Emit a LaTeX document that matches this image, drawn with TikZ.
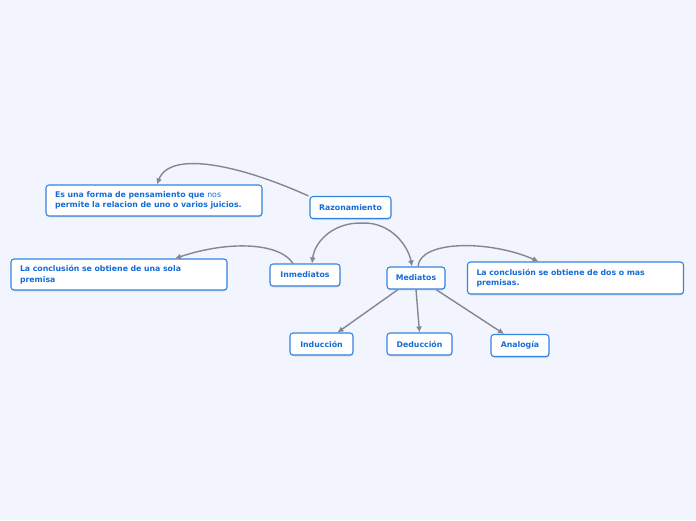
\documentclass[tikz,border=0pt]{standalone}
\usepackage{fontspec}
\setmainfont{DejaVu Sans}
\usepackage{xcolor}
\usepackage{tikz}
\usetikzlibrary{positioning, arrows.meta, shadows}
\definecolor{paper}{RGB}{242,245,253}
\definecolor{edge}{RGB}{52,132,226}
\definecolor{ink}{RGB}{22,108,214}
\definecolor{link}{RGB}{132,134,146}
\begin{document}
\begin{tikzpicture}[x=1pt, y=-1pt,
  topic/.style={draw=edge, line width=1.1pt, rounded corners=3pt, fill=white,
    drop shadow={shadow xshift=0.4pt, shadow yshift=-1.4pt, fill=black!30},
    text=ink, font=\fontsize{7.8}{10.5}\selectfont\bfseries, inner sep=0pt,
    minimum height=22pt},
  note/.style={topic, text width=198pt, align=left, minimum height=31pt, inner xsep=9pt},
  link/.style={draw=link, line width=1.4pt, -{Latex[length=6pt, width=6pt]}}]
\fill[paper] (0,0) rectangle (696,520);
\node[topic, minimum width=81pt] (raz) at (350.5,207.5) {Razonamiento};
\node[note] (def) at (154,200.5) {Es una forma de pensamiento que {\mdseries nos}\\ permite la relacion de uno o varios juicios.};
\node[topic, minimum width=70pt] (inm) at (305,275) {Inmediatos};
\node[topic, minimum width=58pt] (med) at (416,278) {Mediatos};
\node[note] (una) at (119,274.5) {La conclusión se obtiene de una sola\\ premisa};
\node[note, minimum height=32pt] (dos) at (575.5,278) {La conclusión se obtiene de dos o mas\\ premisas.};
\node[topic, minimum width=63pt] (ind) at (321.5,344) {Inducción};
\node[topic, minimum width=65pt] (ded) at (419.5,344) {Deducción};
\node[topic, minimum width=58pt] (ana) at (520,345.5) {Analogía};
\coordinate (arch) at ([xshift=12pt, yshift=-4pt]raz.south);
% Razonamiento
\draw[link] ([xshift=-1pt]raz.north west) .. controls (240,165) and (170,150) .. ([xshift=3pt]def.north);
\draw[link] (arch) .. controls (335,222) and (315,240) .. ([xshift=7pt]inm.north);
\draw[link] (arch) .. controls (390,222) and (408,245) .. ([xshift=-4pt]med.north);
% Inmediatos
\draw[link] ([xshift=-12pt]inm.north) .. controls (280,243) and (230,240) .. ([xshift=56pt]una.north);
% Mediatos
\draw[link] ([xshift=2pt]med.north) .. controls (420,240) and (490,240) .. ([xshift=-37pt]dos.north);
\draw[link] ([xshift=-18pt]med.south) -- ([xshift=16pt]ind.north);
\draw[link] (med.south) -- (ded.north);
\draw[link] ([xshift=20pt]med.south) -- ([xshift=-16pt]ana.north);
\end{tikzpicture}
\end{document}
